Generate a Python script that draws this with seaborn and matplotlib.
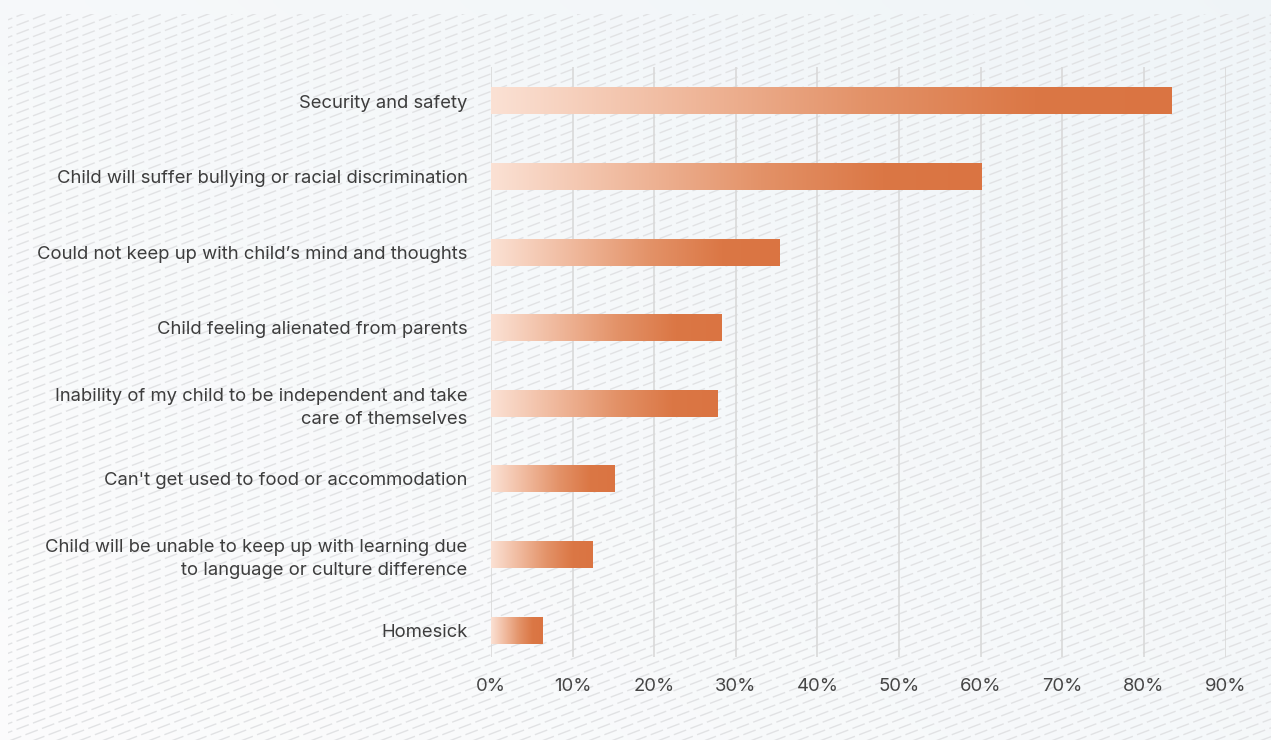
import numpy as np
import pandas as pd
import matplotlib
matplotlib.use("Agg")
import matplotlib.pyplot as plt
from matplotlib.collections import LineCollection
from matplotlib.colors import LinearSegmentedColormap
from matplotlib.patches import Rectangle
import seaborn as sns

# Parents' concerns about sending a child to study abroad (share of respondents, %)
concerns = [
    "Security and safety",
    "Child will suffer bullying or racial discrimination",
    "Could not keep up with child\u2019s mind and thoughts",
    "Child feeling alienated from parents",
    "Inability of my child to be independent and take\ncare of themselves",
    "Can't get used to food or accommodation",
    "Child will be unable to keep up with learning due\nto language or culture difference",
    "Homesick",
]
shares = [83.4, 60.1, 35.3, 28.3, 27.7, 15.1, 12.4, 6.3]
x_ticks = [0, 10, 20, 30, 40, 50, 60, 70, 80, 90]
x_tick_labels = [f"{t}%" for t in x_ticks]

df = pd.DataFrame({"concern": concerns, "share": shares})

sns.set_theme(style="white")
plt.rcParams["font.family"] = ["Inter", "DejaVu Sans"]
plt.rcParams["lines.scale_dashes"] = False

W, H = 1271, 740
fig = plt.figure(figsize=(W / 100, H / 100), dpi=100)

# ---- background: soft gradient with a dashed diagonal texture ----
bg = fig.add_axes([0, 0, 1, 1], zorder=-10)
bg.set_xlim(0, W)
bg.set_ylim(H, 0)
bg.axis("off")
gx, gy = np.meshgrid(np.linspace(0, 1, 200), np.linspace(0, 1, 120))
t = np.clip(0.55 * gx + 0.45 * (1 - gy), 0, 1)
c0 = np.array([0.988, 0.988, 0.990])
c1 = np.array([0.940, 0.960, 0.972])
grad = c0[None, None, :] * (1 - t[..., None]) + c1[None, None, :] * t[..., None]
bg.imshow(grad, extent=(0, W, H, 0), aspect="auto", interpolation="bicubic")

slope = 0.38
spacing = 8.8
segs = []
c = 14.0
while c < H + slope * W + 20:
    segs.append([(0, c), (W, c - slope * W)])
    c += spacing
texture = LineCollection(segs, colors="#e1e2e4", linewidths=1.0,
                         linestyles=[(0, (9.5, 3.2))])
bg.add_collection(texture)
clip = Rectangle((8, 14), W - 8, H - 14, transform=bg.transData,
                 facecolor="none", edgecolor="none")
bg.add_patch(clip)
texture.set_clip_path(clip)

# ---- bar chart ----
ax_left, ax_right = 491, 1225.6
ax_top, ax_bottom = 67, 657
ax = fig.add_axes([ax_left / W, (H - ax_bottom) / H,
                   (ax_right - ax_left) / W, (ax_bottom - ax_top) / H])
ax.patch.set_alpha(0)

bar_h = 0.357
sns.barplot(data=df, x="share", y="concern", orient="h", ax=ax,
            width=bar_h, color="#db7543", saturation=1, zorder=3)

# left-to-right gradient fill for each bar
bar_cmap = LinearSegmentedColormap.from_list(
    "peach", [(0.0, "#fbe1d4"), (0.30, "#efb699"), (0.55, "#e39268"),
              (0.80, "#db7745"), (1.0, "#da7442")])
ramp = np.linspace(0, 1, 256)[None, :]
for p in ax.patches:
    x0, y0 = p.get_x(), p.get_y()
    w, h = p.get_width(), p.get_height()
    p.set_visible(False)
    ax.imshow(ramp, cmap=bar_cmap, aspect="auto", interpolation="bilinear",
              extent=(x0, x0 + w, y0 + h, y0), zorder=3)
ax.set_xlim(0, 90)
ax.set_ylim(len(concerns) - 1 + bar_h, -0.45)

ax.set_xticks(x_ticks)
ax.set_xticklabels(x_tick_labels)
ax.grid(axis="x", color="#d9d9d9", linewidth=1.2, zorder=0)
ax.grid(axis="y", visible=False)
ax.set_axisbelow(True)
for s in ax.spines.values():
    s.set_visible(False)
ax.set_xlabel("")
ax.set_ylabel("")
ax.tick_params(axis="x", length=0, pad=15, labelsize=13.3, labelcolor="#454545")
ax.tick_params(axis="y", length=0, pad=17, labelsize=13.3, labelcolor="#3d3d3d")
for lbl in ax.get_yticklabels():
    lbl.set_linespacing(1.4)

fig.savefig("out.png", dpi=100)
